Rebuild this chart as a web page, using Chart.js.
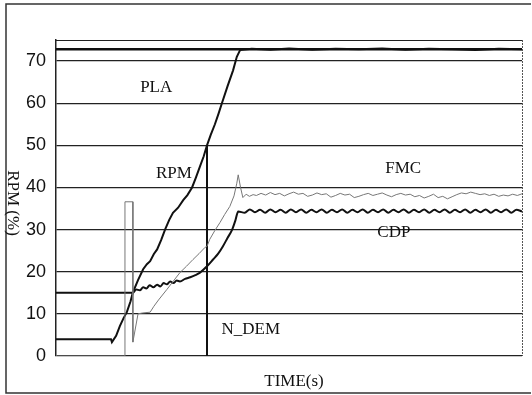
<!DOCTYPE html>
<html lang="en">
<head>
  <meta charset="UTF-8">
  <title>RPM (%) vs TIME(s)</title>
  <script src="https://cdn.jsdelivr.net/npm/chart.js"></script>
  <style>
    * { box-sizing: border-box; }
    body { margin: 0; background: #fff; }
    #wrap { width: 532px; height: 395px; position: relative; }
  </style>
</head>
<body>
  <div id="wrap"><canvas id="rpmChart" width="532" height="395"></canvas></div>

  <script>
    // y ticks shown on the left
    const yTicks = [0, 10, 20, 30, 40, 50, 60, 70];

    // PLA - throttle, flat over the run
    const plaTime = [0, 100];
    const plaValues = [72.8, 72.8];

    // RPM - spool up, then flat on PLA
    const rpmTime = [0, 11.8, 12.0, 12.9, 13.7, 14.5, 15.2, 16.0, 16.5, 17.6, 18.7, 19.5, 20.2, 21.0, 21.7, 22.6, 23.4, 24.3, 25.1, 26.2, 27.3, 28.2, 29.2, 30.0, 30.9, 31.7, 32.4, 33.2, 34.1, 34.9, 35.6, 36.8, 38.0, 38.8, 39.5, 42, 46, 50, 55, 60, 65, 70, 75, 80, 85, 90, 95, 100];
    const rpmValues = [4, 4, 3.3, 4.8, 7.1, 9.0, 10.4, 13.0, 15.1, 18.0, 20.6, 21.8, 22.5, 24.2, 25.3, 27.6, 30.0, 32.3, 34.0, 35.2, 37.0, 38.2, 40.0, 42.3, 45.0, 47.4, 50.0, 52.5, 55.0, 57.6, 60.0, 64.0, 67.8, 71.0, 72.6, 72.9, 72.7, 73.0, 72.7, 72.9, 72.8, 73.0, 72.7, 72.9, 72.8, 72.6, 72.9, 72.8];

    // CDP
    const cdpTime = [0, 16.5, 17.2, 18.0, 18.7, 19.4, 20.1, 20.9, 21.7, 22.4, 23.1, 23.8, 24.5, 25.2, 25.9, 26.6, 27.7, 28.8, 29.9, 30.9, 32.4, 33.7, 34.8, 35.8, 36.8, 37.8, 38.5, 39.1,
      40.5, 41.6, 42.7, 43.8, 44.9, 46.0, 47.1, 48.2, 49.3, 50.4, 51.5, 52.6, 53.7, 54.8, 55.9, 57.0, 58.1, 59.2, 60.3, 61.4, 62.5, 63.6, 64.7, 65.8, 66.9, 68.0, 69.1, 70.2,
      71.3, 72.4, 73.5, 74.6, 75.7, 76.8, 77.9, 79.0, 80.1, 81.2, 82.3, 83.4, 84.5, 85.6, 86.7, 87.8, 88.9, 90.0, 91.1, 92.2, 93.3, 94.4, 95.5, 96.6, 97.7, 98.8, 100];
    const cdpValues = [15, 15, 15.8, 15.6, 16.3, 16.0, 16.8, 16.3, 16.9, 16.5, 17.3, 17.0, 17.7, 17.3, 17.9, 17.7, 18.3, 18.7, 19.2, 19.8, 21.3, 22.9, 24.3, 26.0, 28.0, 30.0, 32.2, 34.3,
      34.0, 34.8, 34.1, 34.7, 34.0, 34.8, 34.1, 34.7, 34.0, 34.8, 34.1, 34.8, 34.0, 34.7, 34.1, 34.8, 34.0, 34.7, 34.1, 34.8, 34.0, 34.7, 34.1, 34.8, 34.0, 34.7, 34.1, 34.8,
      34.0, 34.7, 34.1, 34.8, 34.0, 34.7, 34.1, 34.8, 34.0, 34.7, 34.1, 34.8, 34.0, 34.7, 34.1, 34.8, 34.0, 34.7, 34.1, 34.8, 34.0, 34.7, 34.1, 34.8, 34.0, 34.7, 34.3];

    // FMC - thin grey trace
    const fmcTime = [0, 14.8, 14.8, 16.5, 16.5, 17.6, 18.5, 20.2, 21.0, 22.0, 23.8, 25.2, 26.6, 28.0, 29.4, 30.7, 32.0, 32.4, 33.0, 34.1, 35.2, 36.2, 37.3, 38.2, 38.8, 39.1, 39.6, 40.1, 40.8, 41.5, 42.3,
      43, 44, 45, 46, 47, 48, 49, 50, 51, 52, 53, 54, 55, 56, 57, 58, 59, 60, 61, 62, 63, 64, 65, 66, 67, 68, 69, 70, 71,
      72, 73, 74, 75, 76, 77, 78, 79, 80, 81, 82, 83, 84, 85, 86, 87, 88, 89, 90, 91, 92, 93, 94, 95, 96, 97, 98, 99, 100];
    const fmcValues = [0, 0, 36.6, 36.6, 3.3, 10.0, 10.2, 10.4, 11.8, 13.3, 15.8, 17.8, 19.8, 21.3, 22.9, 24.3, 25.8, 26.0, 27.7, 29.8, 31.7, 33.6, 35.5, 38.0, 41.0, 43.0, 40.0, 37.6, 38.4, 37.9, 38.3,
      38.1, 38.6, 38.2, 38.8, 38.3, 38.6, 38.0, 38.5, 38.9, 38.4, 38.6, 37.9, 38.2, 38.7, 38.3, 38.5, 37.7, 38.1, 38.6, 38.2, 38.4, 37.6, 37.9, 38.3, 38.6, 38.1, 38.4, 38.7, 38.2,
      37.8, 38.3, 38.6, 38.2, 38.4, 37.8, 38.1, 37.5, 37.9, 38.4, 37.6, 37.9, 37.3, 37.8, 38.3, 38.7, 38.5, 38.9, 38.6, 38.3, 38.5, 38.1, 38.4, 37.9, 38.2, 38.0, 38.4, 38.1, 38.5];

    // N_DEM - step marker
    const ndemTime = [32.4, 32.4];
    const ndemValues = [0, 50];

    // curve names written on the plot (data coords)
    const curveLabels = [
      { text: 'PLA', x: 21.5, y: 63.8 },
      { text: 'RPM', x: 25.3, y: 43.4 },
      { text: 'FMC', x: 74.5, y: 44.6 },
      { text: 'CDP', x: 72.5, y: 29.2 },
      { text: 'N_DEM', x: 41.8, y: 6.2 }
    ];

    const toPoints = (t, v) => t.map((x, i) => ({ x: x, y: v[i] }));
    const serif = '"Liberation Serif", "Times New Roman", serif';

    const textPlugin = {
      id: 'texts',
      afterDraw(chart) {
        const ctx = chart.ctx;
        const a = chart.chartArea;
        const xs = chart.scales.x, ys = chart.scales.y;
        ctx.save();
        // outer frame
        ctx.strokeStyle = '#333';
        ctx.lineWidth = 1.5;
        ctx.beginPath();
        ctx.moveTo(531, 4); ctx.lineTo(6, 4); ctx.lineTo(6, 393); ctx.lineTo(531, 393);
        ctx.stroke();
        // plot top and right border
        ctx.strokeStyle = '#222';
        ctx.lineWidth = 1;
        ctx.beginPath();
        ctx.moveTo(a.left, a.top + 0.5); ctx.lineTo(a.right, a.top + 0.5);
        ctx.stroke();
        ctx.strokeStyle = '#555';
        ctx.setLineDash([2, 1]);
        ctx.beginPath();
        ctx.moveTo(a.right + 0.5, a.top); ctx.lineTo(a.right + 0.5, a.bottom);
        ctx.stroke();
        ctx.setLineDash([]);

        ctx.fillStyle = '#111';
        ctx.font = '17px ' + serif;
        ctx.textAlign = 'center';
        ctx.textBaseline = 'middle';
        curveLabels.forEach(l => {
          ctx.fillText(l.text, xs.getPixelForValue(l.x), ys.getPixelForValue(l.y));
        });
        // x title
        ctx.fillText('TIME(s)', (a.left + a.right) / 2 + 5, 382);
        // y title, reads top to bottom
        ctx.translate(12, 203);
        ctx.rotate(Math.PI / 2);
        ctx.fillText('RPM (%)', 0, 0);
        ctx.restore();
      }
    };

    new Chart(document.getElementById('rpmChart'), {
      type: 'line',
      data: {
        datasets: [
          { label: 'FMC', data: toPoints(fmcTime, fmcValues), borderColor: '#777', borderWidth: 1, pointRadius: 0, tension: 0 },
          { label: 'PLA', data: toPoints(plaTime, plaValues), borderColor: '#111', borderWidth: 2.5, pointRadius: 0 },
          { label: 'RPM', data: toPoints(rpmTime, rpmValues), borderColor: '#111', borderWidth: 2, pointRadius: 0, tension: 0 },
          { label: 'CDP', data: toPoints(cdpTime, cdpValues), borderColor: '#111', borderWidth: 2, pointRadius: 0, cubicInterpolationMode: 'monotone' },
          { label: 'N_DEM', data: toPoints(ndemTime, ndemValues), borderColor: '#111', borderWidth: 2, pointRadius: 0 }
        ]
      },
      options: {
        responsive: false,
        animation: false,
        layout: { padding: { top: 40, right: 10, left: 0, bottom: 0 } },
        plugins: { legend: { display: false }, tooltip: { enabled: false } },
        scales: {
          x: {
            type: 'linear',
            min: 0,
            max: 100,
            ticks: { display: false },
            grid: { display: false },
            border: { display: false },
            afterFit(scale) { scale.height = 39; }
          },
          y: {
            min: 0,
            max: 75,
            afterBuildTicks(scale) { scale.ticks = yTicks.map(v => ({ value: v })); },
            afterFit(scale) { scale.width = 56; },
            ticks: {
              color: '#111',
              padding: 10,
              font: { family: '"Liberation Sans", Arial, sans-serif', size: 18 }
            },
            grid: { color: '#222', lineWidth: 1.2, drawTicks: false },
            border: { display: true, color: '#222', width: 1.5 }
          }
        }
      },
      plugins: [textPlugin]
    });
  </script>
</body>
</html>
